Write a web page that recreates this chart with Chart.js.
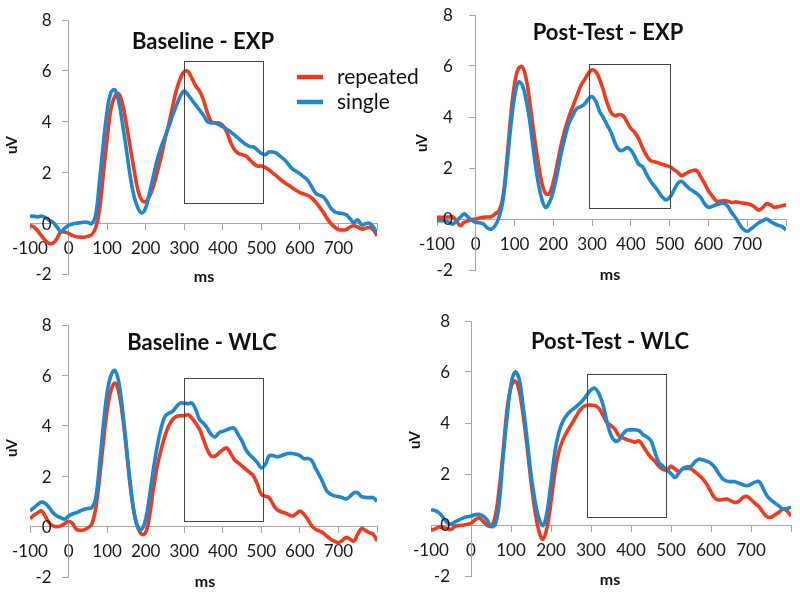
<!DOCTYPE html>
<html>
<head>
<meta charset="utf-8">
<script src="https://cdn.jsdelivr.net/npm/chart.js@4"></script>
<style>
  body { margin: 0; background: #fff; }
  #wrap { position: relative; width: 800px; height: 595px; overflow: hidden; }
  canvas { position: absolute; }
</style>
</head>
<body>
<div id="wrap">
  <canvas id="p2" width="400" height="298" style="left:400px;top:0"></canvas>
  <canvas id="p4" width="400" height="297" style="left:400px;top:298px"></canvas>
  <canvas id="p3" width="400" height="297" style="left:0;top:298px"></canvas>
  <canvas id="p1" width="440" height="298" style="left:0;top:0"></canvas>
</div>
<script>
// time axis (ms), one sample every 10 ms
const ms = [-100,-90,-80,-70,-60,-50,-40,-30,-20,-10,0,10,20,30,40,50,60,70,80,90,
  100,110,120,130,140,150,160,170,180,190,200,210,220,230,240,250,260,270,280,290,
  300,310,320,330,340,350,360,370,380,390,400,410,420,430,440,450,460,470,480,490,
  500,510,520,530,540,550,560,570,580,590,600,610,620,630,640,650,660,670,680,690,
  700,710,720,730,740,750,760,770,780,790,800];

const xTickLabels = [-100, 0, 100, 200, 300, 400, 500, 600, 700];
const yTickLabels = [-2, 0, 2, 4, 6, 8];
const seriesNames = ['repeated', 'single'];

// Baseline - EXP
const baseExpRepeated = [-0.08,-0.15,-0.3,-0.5,-0.68,-0.8,-0.78,-0.6,-0.35,-0.35,-0.4,-0.48,-0.53,-0.55,-0.55,-0.52,-0.45,-0.2,0.5,1.9,
  3.3,4.5,5.0,5.1,4.7,3.9,3.0,2.1,1.3,0.9,0.85,1.05,1.45,2.0,2.6,3.3,3.9,4.6,5.25,5.7,
  5.97,5.97,5.7,5.4,5.2,4.85,4.35,4.0,3.95,3.95,3.85,3.6,3.2,2.9,2.75,2.7,2.65,2.5,2.35,2.25,
  2.25,2.2,2.1,1.97,1.85,1.72,1.6,1.5,1.4,1.3,1.2,1.15,1.1,1.0,0.85,0.65,0.45,0.2,0.0,-0.15,
  -0.25,-0.27,-0.25,-0.15,-0.1,-0.15,-0.23,-0.2,-0.17,-0.25,-0.5];
const baseExpSingle = [0.28,0.27,0.25,0.28,0.22,0.12,0.03,-0.15,-0.34,-0.2,-0.08,-0.03,0.0,0.02,0.04,0.03,-0.02,0.3,1.6,3.1,
  4.4,5.15,5.25,4.8,3.9,2.9,1.85,1.05,0.6,0.4,0.6,1.2,1.85,2.5,3.0,3.4,3.8,4.25,4.65,5.0,
  5.2,5.05,4.85,4.65,4.45,4.25,4.0,3.95,3.95,3.88,3.8,3.7,3.6,3.48,3.35,3.22,3.1,3.02,3.0,2.88,
  2.75,2.7,2.8,2.8,2.75,2.62,2.5,2.32,2.15,2.05,1.95,1.82,1.7,1.45,1.2,1.1,1.05,0.85,0.6,0.45,
  0.4,0.38,0.33,0.18,0.03,0.13,-0.07,-0.02,0.0,-0.13,-0.4];

// Post-Test - EXP
const postExpRepeated = [0.07,0.07,0.07,0.08,0.09,-0.07,-0.26,-0.13,-0.07,-0.03,0.0,0.04,0.07,0.08,0.09,0.2,0.33,0.85,2.3,4.0,
  5.3,5.9,5.97,5.5,4.5,3.35,2.3,1.45,1.0,1.0,1.45,2.15,2.9,3.5,4.0,4.4,4.8,5.2,5.45,5.7,
  5.85,5.77,5.45,5.0,4.5,4.15,4.05,4.1,4.05,3.8,3.55,3.4,3.15,2.8,2.5,2.3,2.25,2.2,2.15,2.1,
  2.05,1.95,1.85,1.7,1.77,1.85,1.9,1.9,1.65,1.4,1.1,0.9,0.72,0.7,0.72,0.7,0.65,0.67,0.65,0.62,
  0.6,0.55,0.46,0.35,0.45,0.6,0.55,0.46,0.48,0.52,0.56];
const postExpSingle = [-0.07,-0.07,-0.07,-0.12,-0.2,-0.08,0.07,0.2,0.07,-0.05,-0.13,-0.15,-0.2,-0.35,-0.4,-0.26,0.07,0.72,2.05,3.6,
  4.8,5.37,5.25,4.65,3.75,2.55,1.5,0.8,0.46,0.65,1.1,1.77,2.55,3.2,3.75,4.05,4.33,4.4,4.5,4.7,
  4.8,4.6,4.2,3.95,3.65,3.35,2.95,2.7,2.7,2.8,2.7,2.45,2.15,2.05,1.77,1.5,1.3,1.1,0.88,0.75,
  0.85,1.1,1.38,1.48,1.35,1.2,1.1,1.0,0.85,0.6,0.46,0.5,0.56,0.6,0.62,0.5,0.25,0.05,-0.2,-0.4,
  -0.48,-0.38,-0.26,-0.15,-0.07,0.0,-0.1,-0.18,-0.25,-0.3,-0.43];

// Baseline - WLC
const baseWlcRepeated = [0.32,0.45,0.55,0.62,0.4,0.15,0.03,0.0,0.03,0.12,0.2,0.13,-0.1,-0.15,-0.13,-0.05,0.09,0.68,1.87,3.3,
  4.6,5.4,5.7,5.35,4.4,3.05,1.6,0.55,-0.04,-0.3,-0.24,0.42,1.48,2.4,3.05,3.6,4.0,4.25,4.37,4.4,
  4.4,4.44,4.3,4.1,3.85,3.45,3.05,2.8,2.8,2.92,3.05,3.12,2.92,2.66,2.53,2.4,2.27,2.15,2.0,1.67,
  1.28,1.21,1.15,0.9,0.68,0.6,0.55,0.48,0.42,0.5,0.62,0.5,0.29,0.05,-0.1,-0.17,-0.24,-0.38,-0.5,-0.58,
  -0.63,-0.55,-0.43,-0.5,-0.57,-0.3,-0.08,-0.15,-0.24,-0.3,-0.57];
const baseWlcSingle = [0.62,0.75,0.88,0.97,0.92,0.75,0.55,0.42,0.35,0.29,0.42,0.5,0.55,0.62,0.68,0.72,0.75,1.08,2.4,4.0,
  5.3,6.0,6.2,5.75,4.64,3.19,1.74,0.55,-0.04,-0.1,0.29,1.21,2.27,3.19,3.9,4.37,4.5,4.57,4.77,4.9,
  4.9,4.88,4.9,4.64,4.24,4.1,3.9,3.65,3.56,3.72,3.78,3.84,3.9,3.9,3.65,3.39,3.05,2.85,2.7,2.53,
  2.33,2.46,2.8,2.82,2.77,2.8,2.86,2.9,2.9,2.87,2.82,2.7,2.7,2.64,2.33,2.05,1.74,1.41,1.28,1.22,
  1.19,1.15,1.1,1.2,1.34,1.34,1.19,1.16,1.15,1.15,1.01];

// Post-Test - WLC
const postWlcRepeated = [-0.2,-0.15,-0.08,-0.1,-0.14,-0.17,-0.05,-0.02,-0.01,0.03,0.07,0.2,0.28,0.15,-0.01,-0.05,0.3,1.35,2.85,4.5,
  5.4,5.65,5.3,4.35,3.1,1.7,0.55,-0.25,-0.55,-0.1,0.9,2.1,2.9,3.35,3.65,3.92,4.18,4.45,4.63,4.7,
  4.7,4.68,4.57,4.3,4.02,3.9,3.75,3.5,3.42,3.35,3.3,3.25,3.3,3.1,2.85,2.65,2.5,2.3,2.18,2.15,
  2.3,2.2,2.1,2.2,2.22,2.2,2.08,1.95,1.8,1.58,1.3,1.05,0.98,1.0,1.02,0.95,0.88,0.93,1.08,1.12,
  1.0,0.85,0.72,0.5,0.32,0.3,0.4,0.5,0.62,0.55,0.35];
const postWlcSingle = [0.6,0.57,0.48,0.3,0.1,0.03,0.12,0.2,0.27,0.32,0.35,0.4,0.42,0.35,0.2,-0.05,0.0,0.8,2.6,4.2,
  5.5,6.0,5.75,4.7,3.4,2.0,0.95,0.25,-0.02,0.5,1.65,2.9,3.65,4.08,4.32,4.48,4.6,4.74,4.9,5.1,
  5.3,5.36,5.15,4.72,4.05,3.52,3.3,3.34,3.58,3.72,3.73,3.73,3.7,3.55,3.45,3.3,2.85,2.45,2.3,2.15,
  2.02,1.86,2.05,2.22,2.28,2.3,2.48,2.58,2.55,2.5,2.42,2.25,2.0,1.8,1.72,1.7,1.7,1.64,1.58,1.54,
  1.6,1.68,1.7,1.45,1.15,0.98,0.86,0.74,0.63,0.65,0.7];

// analysis windows drawn as boxes: [msStart, msEnd, uVLow, uVHigh]
const windowBaseExp = [300, 505, 0.78, 6.4];
const windowPostExp = [293, 500, 0.45, 6.08];
const windowBaseWlc = [300, 505, 0.24, 5.89];
const windowPostWlc = [290, 487, 0.3, 5.92];

const RED = '#f2391b';
const BLUE = '#1f87cf';
const AXIS = '#a8a8a8';
const FONT = 'Lato, "Open Sans", sans-serif';

const panelText = {
  id: 'panelText',
  afterDatasetsDraw(chart, args, opts) {
    const ctx = chart.ctx;
    const xs = chart.scales.x, ys = chart.scales.y;
    const b = opts.box;
    ctx.save();
    // window box
    const left = Math.round(xs.getPixelForValue(b[0])) + 0.5;
    const right = Math.round(xs.getPixelForValue(b[1])) + 0.5;
    const top = Math.round(ys.getPixelForValue(b[3])) + 0.5;
    const bottom = Math.round(ys.getPixelForValue(b[2])) + 0.5;
    ctx.strokeStyle = '#444';
    ctx.lineWidth = 1;
    ctx.strokeRect(left, top, right - left, bottom - top);

    // y tick labels, right aligned left of the y axis
    ctx.fillStyle = '#1a1a1a';
    ctx.font = '17px ' + FONT;
    ctx.textAlign = 'right';
    ctx.textBaseline = 'middle';
    const axisX = xs.getPixelForValue(0);
    yTickLabels.forEach(v => {
      ctx.fillText(String(v), axisX - opts.yGap, ys.getPixelForValue(v) + 1);
    });

    ctx.fillStyle = '#111';
    ctx.textAlign = 'center';
    ctx.font = 'bold 22px ' + FONT;
    ctx.fillText(opts.title, opts.titlePos[0], opts.titlePos[1]);

    ctx.font = 'bold 16px ' + FONT;
    ctx.fillText('ms', opts.msPos[0], opts.msPos[1]);

    ctx.save();
    ctx.translate(opts.uvPos[0], opts.uvPos[1]);
    ctx.rotate(-Math.PI / 2);
    ctx.font = 'bold 15px ' + FONT;
    ctx.fillText('uV', 0, 0);
    ctx.restore();

    if (opts.legend) {
      const lg = opts.legend;
      const colors = [RED, BLUE];
      ctx.font = '21px ' + FONT;
      ctx.textAlign = 'left';
      seriesNames.forEach((name, i) => {
        const y = lg.y + i * lg.gap;
        ctx.strokeStyle = colors[i];
        ctx.lineWidth = 4.5;
        ctx.beginPath();
        ctx.moveTo(lg.x, y);
        ctx.lineTo(lg.x + 26, y);
        ctx.stroke();
        ctx.fillStyle = '#111';
        ctx.fillText(name, lg.x + 40, y);
      });
    }
    ctx.restore();
  }
};
Chart.register(panelText);

function makePanel(id, red, blue, pad, text) {
  const ctx = document.getElementById(id).getContext('2d');
  return new Chart(ctx, {
    type: 'line',
    data: {
      datasets: [
        {
          label: seriesNames[0],
          data: ms.map((t, i) => ({ x: t, y: red[i] })),
          borderColor: RED,
          borderWidth: 3.6,
          pointRadius: 0,
          tension: 0.4,
          order: 1
        },
        {
          label: seriesNames[1],
          data: ms.map((t, i) => ({ x: t, y: blue[i] })),
          borderColor: BLUE,
          borderWidth: 3.6,
          pointRadius: 0,
          tension: 0.4,
          order: 0
        }
      ]
    },
    options: {
      responsive: false,
      animation: false,
      layout: { padding: pad },
      plugins: {
        legend: { display: false },
        tooltip: { enabled: false },
        panelText: text
      },
      scales: {
        x: {
          type: 'linear',
          min: -100,
          max: 800,
          position: { y: 0 },
          border: { display: true, color: AXIS, width: 1 },
          grid: { drawOnChartArea: false, drawTicks: true, tickLength: 6, color: AXIS },
          ticks: {
            stepSize: 100,
            padding: 9,
            maxRotation: 0,
            autoSkip: false,
            color: '#1a1a1a',
            font: { family: FONT, size: 17 },
            callback: v => xTickLabels.includes(v) ? String(v) : ''
          }
        },
        y: {
          type: 'linear',
          min: -2,
          max: 8,
          position: { x: 0 },
          border: { display: true, color: AXIS, width: 1 },
          grid: { drawOnChartArea: false, drawTicks: true, tickLength: 6, color: AXIS },
          ticks: {
            stepSize: 2,
            callback: () => ''
          }
        }
      }
    }
  });
}

makePanel('p1', baseExpRepeated, baseExpSingle,
  { left: 30, right: 63, top: 20, bottom: 24 },
  { title: 'Baseline - EXP', titlePos: [203, 42], msPos: [204, 277], uvPos: [12, 145], yGap: 17,
    box: windowBaseExp, legend: { x: 297, y: 77, gap: 25 } });

makePanel('p2', postExpRepeated, postExpSingle,
  { left: 37, right: 14, top: 15, bottom: 28 },
  { title: 'Post-Test - EXP', titlePos: [208, 33], msPos: [210, 275], uvPos: [22, 143], yGap: 23,
    box: windowPostExp });

makePanel('p3', baseWlcRepeated, baseWlcSingle,
  { left: 30, right: 23, top: 27, bottom: 18 },
  { title: 'Baseline - WLC', titlePos: [202, 45], msPos: [205, 284], uvPos: [12, 150], yGap: 17,
    box: windowBaseWlc });

makePanel('p4', postWlcRepeated, postWlcSingle,
  { left: 31, right: 9, top: 23, bottom: 19 },
  { title: 'Post-Test - WLC', titlePos: [210, 44], msPos: [210, 282], uvPos: [15, 142], yGap: 21,
    box: windowPostWlc });
</script>
</body>
</html>
